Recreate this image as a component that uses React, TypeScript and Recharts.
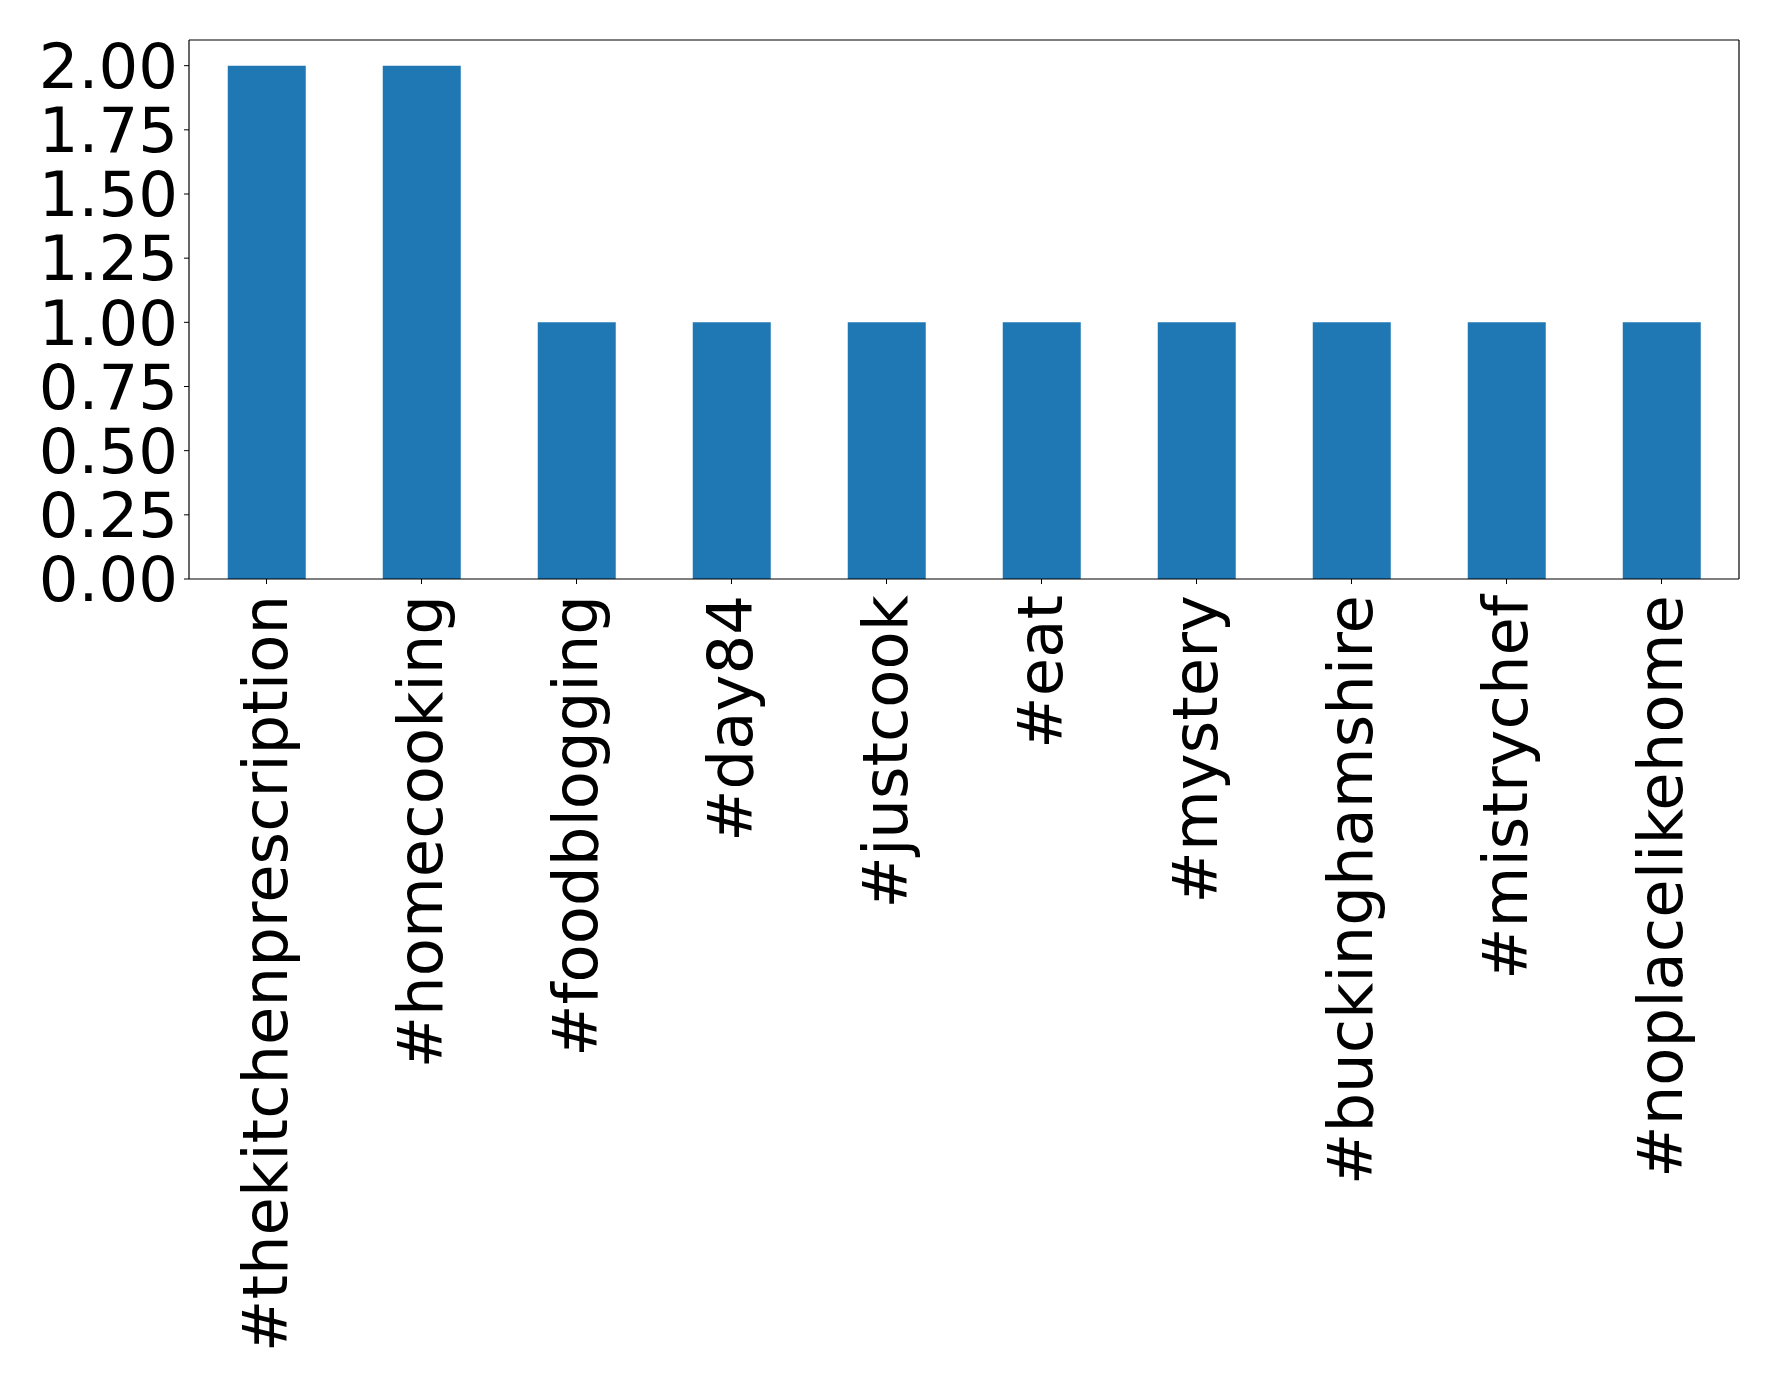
import { BarChart, Bar, XAxis, YAxis } from "recharts";

const hashtags = [
  "#thekitchenprescription",
  "#homecooking",
  "#foodblogging",
  "#day84",
  "#justcook",
  "#eat",
  "#mystery",
  "#buckinghamshire",
  "#mistrychef",
  "#noplacelikehome",
];
const counts = [2, 2, 1, 1, 1, 1, 1, 1, 1, 1];
const yTicks = [0, 0.25, 0.5, 0.75, 1.0, 1.25, 1.5, 1.75, 2.0];

const data = hashtags.map((tag, i) => ({ tag, count: counts[i] }));

const FONT = "DejaVu Sans";
const FS = 62.5;
const AXIS = { stroke: "#000", strokeWidth: 1.2 };

function RotatedTick(props: any) {
  const { x, y, payload } = props;
  return (
    <text
      transform={`translate(${x + 20}, ${y + 9}) rotate(-90)`}
      textAnchor="end"
      fontFamily={FONT}
      fontSize={FS}
      fill="#000"
    >
      {payload.value}
    </text>
  );
}

export default function App() {
  return (
    <div style={{ position: "absolute", left: 0, top: 0, background: "#fff" }}>
      <BarChart
        width={1778}
        height={1385}
        data={data}
        margin={{ top: 39, right: 38, bottom: 0, left: 0 }}
        barCategoryGap="25%"
      >
        <XAxis
          dataKey="tag"
          interval={0}
          height={806}
          axisLine={AXIS}
          tickLine={{ stroke: "#000" }}
          tickSize={5}
          tick={<RotatedTick />}
        />
        <XAxis
          xAxisId="top"
          orientation="top"
          dataKey="tag"
          height={1}
          tick={false}
          tickLine={false}
          axisLine={AXIS}
        />
        <YAxis
          domain={[0, 2.1]}
          ticks={yTicks}
          interval={0}
          width={189}
          axisLine={AXIS}
          tickLine={{ stroke: "#000" }}
          tickSize={5}
          tickMargin={6}
          tickFormatter={(v: number) => v.toFixed(2)}
          tick={{ fontFamily: FONT, fontSize: FS, fill: "#000" }}
        />
        <YAxis
          yAxisId="right"
          orientation="right"
          width={1}
          tick={false}
          tickLine={false}
          axisLine={AXIS}
          domain={[0, 2.1]}
        />
        <Bar dataKey="count" fill="#1f77b4" isAnimationActive={false} />
      </BarChart>
    </div>
  );
}
